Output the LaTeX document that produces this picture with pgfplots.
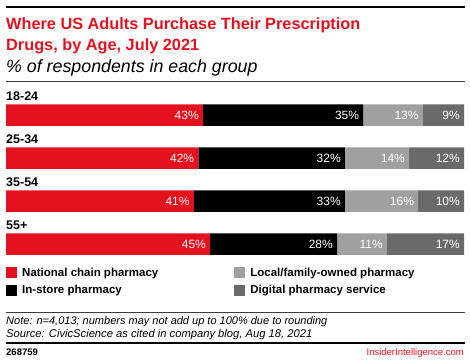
\documentclass[border=0pt]{standalone}
\usepackage{fontspec}
\setmainfont{Liberation Sans}
\usepackage{pgfplots}
\pgfplotsset{compat=1.18}
\usepackage{pgfplotstable}
\definecolor{ired}{RGB}{227,18,30}
\definecolor{lgray}{RGB}{160,160,160}
\definecolor{dgray}{RGB}{106,106,106}
\definecolor{rulegray}{RGB}{60,60,60}

% cat: 0=18-24, 1=25-34, 2=35-54, 3=55+ ; tot = sum of the row (bars span full width)
\pgfplotstableread{
cat nat ins loc dig tot
0 43 35 13 9 100
1 42 32 14 12 100
2 41 33 16 10 100
3 45 28 11 17 101
}\data

\pgfplotsset{base/.style={
  at={(6pt,-93.5pt)}, anchor=north west,
  scale only axis, width=458pt, height=172pt,
  xmin=0, xmax=100, ymin=-0.5, ymax=3.5,
  y dir=reverse, hide axis, clip=false}}

\begin{document}
\begin{tikzpicture}[x=1pt,y=1pt]
\path (0,0) rectangle (470,-362);
\draw[line width=2pt] (6,-7) -- (465,-7);
\node[anchor=base west, inner sep=0, text=ired, font=\fontsize{16.3}{20}\selectfont\bfseries] at (6,-29.3) {Where US Adults Purchase Their Prescription};
\node[anchor=base west, inner sep=0, text=ired, font=\fontsize{16.3}{20}\selectfont\bfseries] at (6,-50.7) {Drugs, by Age, July 2021};
\node[anchor=base west, inner sep=0, font=\fontsize{17.8}{18}\selectfont\itshape] at (6,-72.7) {\% of respondents in each group};
\draw[line width=0.6pt, rulegray] (6,-81) -- (465,-81);

\begin{axis}[base,
  xbar stacked, bar width=21.5pt,
  legend columns=2, transpose legend,
  legend image code/.code={\fill (0pt,-5.5pt) rectangle (11pt,5.5pt);},
  legend style={at={(0,0)}, anchor=north west, draw=none, fill=none, inner sep=0pt,
    font=\fontsize{11.5}{14}\selectfont\bfseries, row sep=4pt,
    /tikz/every odd column/.append style={column sep=3pt},
    /tikz/every even column/.append style={column sep=74pt}},
  legend cell align=left,
]
\addplot[fill=ired, draw=none] table[y=cat, x expr=\thisrow{nat}*100/\thisrow{tot}] {\data};
\addplot[fill=black, draw=none] table[y=cat, x expr=\thisrow{ins}*100/\thisrow{tot}] {\data};
\addplot[fill=lgray, draw=none] table[y=cat, x expr=\thisrow{loc}*100/\thisrow{tot}] {\data};
\addplot[fill=dgray, draw=none] table[y=cat, x expr=\thisrow{dig}*100/\thisrow{tot}] {\data};
\legend{National chain pharmacy, In-store pharmacy, Local/family-owned pharmacy, Digital pharmacy service}
\node[anchor=base west, inner sep=0, font=\fontsize{12.5}{13}\selectfont\bfseries] at ([yshift=14.75pt]axis cs:0,0) {18-24};
\node[anchor=base west, inner sep=0, font=\fontsize{12.5}{13}\selectfont\bfseries] at ([yshift=14.75pt]axis cs:0,1) {25-34};
\node[anchor=base west, inner sep=0, font=\fontsize{12.5}{13}\selectfont\bfseries] at ([yshift=14.75pt]axis cs:0,2) {35-54};
\node[anchor=base west, inner sep=0, font=\fontsize{12.5}{13}\selectfont\bfseries] at ([yshift=14.75pt]axis cs:0,3) {55+};
\end{axis}

% value labels at the right end of each segment
\begin{axis}[base,
  point meta=explicit symbolic,
  nodes near coords={\pgfplotspointmeta\%},
  every node near coord/.append style={anchor=east, text=white, font=\fontsize{12}{13}\selectfont, inner sep=0pt, xshift=-4pt},
]
\addplot[draw=none, mark=none] table[y=cat, x expr=\thisrow{nat}*100/\thisrow{tot}, meta=nat] {\data};
\addplot[draw=none, mark=none] table[y=cat, x expr=(\thisrow{nat}+\thisrow{ins})*100/\thisrow{tot}, meta=ins] {\data};
\addplot[draw=none, mark=none] table[y=cat, x expr=(\thisrow{nat}+\thisrow{ins}+\thisrow{loc})*100/\thisrow{tot}, meta=loc] {\data};
\addplot[draw=none, mark=none] table[y=cat, x expr=(\thisrow{nat}+\thisrow{ins}+\thisrow{loc}+\thisrow{dig})*100/\thisrow{tot}, meta=dig] {\data};
\end{axis}

\draw[line width=0.6pt, rulegray] (6,-312) -- (465,-312);
\node[anchor=base west, inner sep=0, font=\fontsize{11}{12}\selectfont\itshape] at (6,-324.3) {Note: n=4,013; numbers may not add up to 100\% due to rounding};
\node[anchor=base west, inner sep=0, font=\fontsize{11.2}{12}\selectfont\itshape] at (6,-337) {Source: CivicScience as cited in company blog, Aug 18, 2021};
\draw[line width=2pt] (6,-343.3) -- (465,-343.3);
\node[anchor=base west, inner sep=0, font=\fontsize{9.5}{10}\selectfont\bfseries] at (6,-355.7) {268759};
\node[anchor=base east, inner sep=0, text=ired, font=\fontsize{9.5}{10}\selectfont] at (464,-355.7) {InsiderIntelligence.com};
\end{tikzpicture}
\end{document}
